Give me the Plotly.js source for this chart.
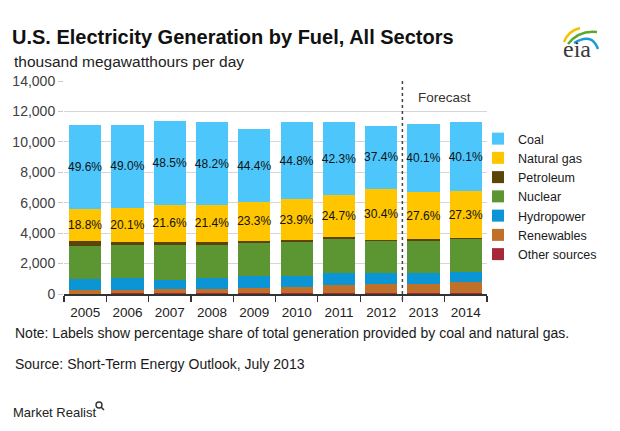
<!DOCTYPE html>
<html>
<head>
<meta charset="utf-8">
<script src="https://cdn.plot.ly/plotly-3.0.1.min.js"></script>
<style>
  html, body { margin: 0; padding: 0; background: #ffffff; }
  #chart { width: 620px; height: 431px; }
</style>
</head>
<body>
<div id="chart"></div>
<script>
// ---- Data (thousand megawatthours per day) ----
const years = ['2005', '2006', '2007', '2008', '2009', '2010', '2011', '2012', '2013', '2014'];
const other = [32, 50, 47, 48, 48, 49, 50, 43, 44, 46];
const renewables = [232, 214, 300, 260, 348, 435, 522, 594, 637, 723];
const hydropower = [703, 791, 600, 747, 791, 703, 813, 748, 704, 682];
const nuclear = [2176, 2154, 2262, 2198, 2154, 2223, 2202, 2118, 2110, 2136];
const petroleum = [370, 230, 198, 175, 162, 119, 134, 60, 119, 89];
const naturalGas = [2091, 2237, 2461, 2413, 2527, 2695, 2785, 3364, 3088, 3078];
const coal = [5516, 5454, 5526, 5435, 4816, 5052, 4770, 4139, 4486, 4522];
const coalPct = [49.6, 49.0, 48.5, 48.2, 44.4, 44.8, 42.3, 37.4, 40.1, 40.1];
const gasPct = [18.8, 20.1, 21.6, 21.4, 23.3, 23.9, 24.7, 30.4, 27.6, 27.3];
const yTicks = [0, 2000, 4000, 6000, 8000, 10000, 12000, 14000];
const forecastStartIndex = 8;

// ---- Geometry helpers (pixel -> paper) ----
const W = 620, H = 431;
const M = { l: 64, r: 133, t: 81, b: 137 };
const PW = W - M.l - M.r, PH = H - M.t - M.b;
const px = x => (x - M.l) / PW;
const py = y => (H - M.b - y) / PH;

const FONT = 'Liberation Sans, Arial, sans-serif';
const pctText = arr => arr.map(v => v.toFixed(1) + '%');

function barTrace(name, values, color, text) {
  const t = {
    type: 'bar', name: name, x: years, y: values,
    marker: { color: color, line: { width: 0 } },
    hoverinfo: 'skip'
  };
  if (text) {
    t.text = text;
    t.textposition = 'inside';
    t.insidetextanchor = 'middle';
    t.textangle = 0;
    t.constraintext = 'none';
    t.insidetextfont = { family: FONT, size: 12, color: '#111111' };
  } else {
    t.textposition = 'none';
  }
  return t;
}

const data = [
  barTrace('Other sources', other, '#a8283a'),
  barTrace('Renewables', renewables, '#bf7129'),
  barTrace('Hydropower', hydropower, '#0b95d4'),
  barTrace('Nuclear', nuclear, '#5b9632'),
  barTrace('Petroleum', petroleum, '#5c4409'),
  barTrace('Natural gas', naturalGas, '#ffc600', pctText(gasPct)),
  barTrace('Coal', coal, '#4dc7fb', pctText(coalPct))
];

const shapes = [
  { type: 'line', xref: 'x', yref: 'paper',
    x0: forecastStartIndex - 0.5, x1: forecastStartIndex - 0.5,
    y0: py(300), y1: py(79),
    line: { color: '#444444', width: 1.5, dash: 'dot' } },
  // eia logo arcs
  { type: 'path', xref: 'paper', yref: 'paper',
    path: `M ${px(564)},${py(42)} Q ${px(568)},${py(31)} ${px(580)},${py(28)}`,
    line: { color: '#f3c300', width: 2.5 } },
  { type: 'path', xref: 'paper', yref: 'paper',
    path: `M ${px(568)},${py(44)} Q ${px(579)},${py(30)} ${px(597)},${py(32)}`,
    line: { color: '#5aa832', width: 2.5 } },
  { type: 'path', xref: 'paper', yref: 'paper',
    path: `M ${px(574)},${py(43)} Q ${px(592)},${py(32)} ${px(598)},${py(49)}`,
    line: { color: '#1a9ad6', width: 2.5 } },
  // Market Realist magnifier
  { type: 'circle', xref: 'paper', yref: 'paper',
    x0: px(96), x1: px(102), y0: py(408), y1: py(402),
    line: { color: '#333333', width: 1.4 } },
  { type: 'line', xref: 'paper', yref: 'paper',
    x0: px(101), x1: px(104), y0: py(407), y1: py(410),
    line: { color: '#333333', width: 1.6 } }
];

const annotations = [
  { xref: 'paper', yref: 'paper', x: px(12), y: py(61), xanchor: 'left', yanchor: 'middle',
    text: 'thousand megawatthours per day', showarrow: false,
    font: { family: FONT, size: 15.5, color: '#222222' } },
  { xref: 'x', yref: 'paper', x: forecastStartIndex + 0.5, y: py(97), xanchor: 'center', yanchor: 'middle',
    text: 'Forecast', showarrow: false,
    font: { family: FONT, size: 13.5, color: '#333333' } },
  { xref: 'paper', yref: 'paper', x: px(13), y: py(333), xanchor: 'left', yanchor: 'middle',
    text: 'Note: Labels show percentage share of total generation provided by coal and natural gas.',
    showarrow: false, font: { family: FONT, size: 14, color: '#1a1a1a' } },
  { xref: 'paper', yref: 'paper', x: px(13), y: py(364), xanchor: 'left', yanchor: 'middle',
    text: 'Source: Short-Term Energy Outlook, July 2013',
    showarrow: false, font: { family: FONT, size: 14, color: '#1a1a1a' } },
  { xref: 'paper', yref: 'paper', x: px(11), y: py(412), xanchor: 'left', yanchor: 'middle',
    text: 'Market Realist', showarrow: false,
    font: { family: FONT, size: 13, color: '#222222' } },
  { xref: 'paper', yref: 'paper', x: px(577), y: py(49), xanchor: 'center', yanchor: 'middle',
    text: 'eia', showarrow: false,
    font: { family: 'Liberation Serif, DejaVu Serif, serif', size: 24, color: '#3a3a3a' } }
];

const layout = {
  width: W, height: H,
  margin: M,
  paper_bgcolor: '#ffffff', plot_bgcolor: '#ffffff',
  barmode: 'stack',
  bargap: 0.24,
  font: { family: FONT, color: '#333333' },
  title: {
    text: '<b>U.S. Electricity Generation by Fuel, All Sectors</b>',
    xref: 'container', yref: 'container',
    x: 12 / W, xanchor: 'left',
    y: 1 - 37 / H, yanchor: 'middle',
    font: { family: FONT, size: 20, color: '#111111' }
  },
  xaxis: {
    type: 'category',
    categoryorder: 'array', categoryarray: years,
    showgrid: false,
    showline: true, linecolor: '#333333', linewidth: 1.5,
    ticks: 'outside', tickson: 'boundaries', ticklen: 6, tickcolor: '#333333', tickwidth: 1.2,
    ticklabelstandoff: 5,
    tickfont: { family: FONT, size: 13.5, color: '#222222' },
    fixedrange: true
  },
  yaxis: {
    range: [0, 14000],
    tickvals: yTicks,
    tickformat: ',d',
    showgrid: true, gridcolor: '#d6d6d6', gridwidth: 1,
    zeroline: false,
    showline: false,
    ticks: 'outside', ticklen: 5, tickcolor: '#c8c8c8',
    tickfont: { family: FONT, size: 14, color: '#404040' },
    fixedrange: true
  },
  showlegend: true,
  legend: {
    x: px(478), xanchor: 'left',
    y: py(124), yanchor: 'top',
    traceorder: 'reversed',
    itemwidth: 30,
    bgcolor: 'rgba(0,0,0,0)',
    font: { family: FONT, size: 12.5, color: '#1a1a1a' }
  },
  shapes: shapes,
  annotations: annotations
};

Plotly.newPlot('chart', data, layout, { displayModeBar: false, staticPlot: true });
</script>
</body>
</html>
